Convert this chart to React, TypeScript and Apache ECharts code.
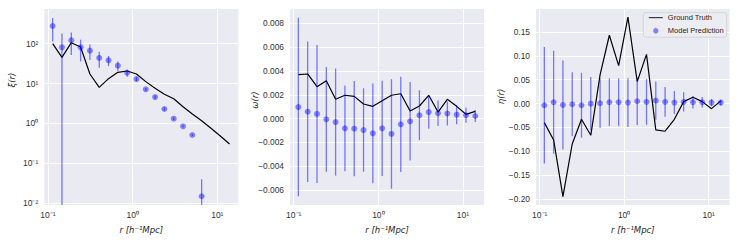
import React, { useEffect, useRef } from "react";
import * as echarts from "echarts";

// Separation bins r [h^-1 Mpc]
const R = [0.1135, 0.1462, 0.1884, 0.2427, 0.3126, 0.4027, 0.5188, 0.6683, 0.861, 1.109,
  1.429, 1.841, 2.371, 3.055, 3.936, 5.07, 6.531, 8.414, 10.84, 13.96];

// xi(r)
const XI_TRUE = [100, 45.6, 106, 82.7, 17.4, 8.07, 13.3, 19.2, 20.7, 17.4,
  11.2, 7.6, 5.4, 4.19, 2.64, 1.73, 1.17, 0.76, 0.487, 0.306];
const XI_PRED = [278, 81, 122, 81, 67, 43.9, 38.4, 28.1, 18.7, 13.0,
  7.2, 4.6, 2.31, 1.32, 0.85, 0.515, 0.015, null, null, null];
const XI_ERR = [165, 100, 70, 45, 28, 19, 11, 7.5, 3.8, 1.5,
  0.6, 0.4, 0.2, 0.1, 0.05, 0.03, 0.025, null, null, null];

// omega(r)
const OMEGA_TRUE = [0.00369, 0.00375, 0.00268, 0.00318, 0.00162, 0.00196, 0.00187, 0.00123, 0.00103, 0.0015,
  0.00196, 0.00209, 0.00064, 0.00106, 0.00196, 0.00055, 0.00162, 0.00103, 0.00036, 0.00061];
const OMEGA_PRED = [0.00097, 0.00058, 0.00039, -0.00006, -0.00029, -0.00082, -0.00085, -0.00096, -0.00124, -0.00082,
  -0.00129, -0.00048, -0.00023, 0.00028, 0.00055, 0.00045, 0.00043, 0.00033, 0.00028, 0.00022];
const OMEGA_ERR = [0.0075, 0.0059, 0.0058, 0.0044, 0.0045, 0.0036, 0.004, 0.0035, 0.0042, 0.004,
  0.0046, 0.004, 0.0033, 0.0021, 0.0014, 0.00107, 0.001, 0.0008, 0.00063, 0.0005];

// eta(r)
const ETA_TRUE = [-0.04, -0.0763, -0.195, -0.0847, -0.033, -0.0665, 0.06, 0.143, 0.0795, 0.181,
  0.046, 0.103, -0.0553, -0.058, -0.033, 0.004, 0.0132, 0.004, -0.0107, 0.0055];
const ETA_PRED = [-0.0036, 0.0027, -0.003, -0.0015, -0.0036, -0.0002, 0.0006, 0.0027, 0.0027, 0.002,
  0.0048, 0.0034, 0.006, 0.0034, 0.002, 0.0034, 0.0027, 0.0027, 0.002, 0.002];
const ETA_ERR = [0.122, 0.108, 0.093, 0.067, 0.068, 0.056, 0.052, 0.05, 0.05, 0.051,
  0.05, 0.048, 0.04, 0.031, 0.024, 0.02, 0.013, 0.011, 0.0075, 0.006];

const X_MIN = 0.0904;
const X_MAX = 17.7;
const XI_MIN = 0.00906;
const XI_MAX = 741;
const OMEGA_MIN = -0.00726;
const OMEGA_MAX = 0.00921;
const OMEGA_STEP = 0.002;
const ETA_MIN = -0.2125;
const ETA_MAX = 0.198;
const ETA_STEP = 0.05;

const Y_TITLES = ["\u03be(r)", "\u03c9(r)", "\u03b7(r)"];
const X_TITLE = "r [h\u207b\u00b9Mpc]";
const LEGEND_NAMES = ["Ground Truth", "Model Prediction"];

const SUP: Record<string, string> = {
  "-": "\u207b", "0": "\u2070", "1": "\u00b9", "2": "\u00b2", "3": "\u00b3",
  "4": "\u2074", "5": "\u2075", "6": "\u2076", "7": "\u2077", "8": "\u2078", "9": "\u2079",
};

const FONT = "'Liberation Sans', Arial, sans-serif";
const TICK_COLOR = "#333333";
const TEXT_DARK = "#262626";
const BLUE = "rgba(0,0,255,0.55)";
const BAR_BLUE = "rgba(0,0,255,0.5)";

function logLabel(v: number) {
  const e = Math.log10(v);
  const r = Math.round(e);
  if (Math.abs(e - r) > 1e-6) return "";
  return "10" + String(r).split("").map((c) => SUP[c]).join("");
}

function linLabel(step: number, digits: number) {
  return (v: number) => {
    const k = v / step;
    if (Math.abs(k - Math.round(k)) > 1e-6) return "";
    let s = (Math.round(k) * step).toFixed(digits);
    if (Math.round(k) === 0) s = (0).toFixed(digits);
    return s.replace("-", "\u2212");
  };
}

const GRIDS = [
  { left: 44.3, top: 9, width: 194, height: 196 },
  { left: 290, top: 9, width: 194, height: 196 },
  { left: 536, top: 9, width: 193.5, height: 196 },
];

function errSeries(idx: number, pred: (number | null)[], err: (number | null)[], floor: number | null) {
  const data: number[][] = [];
  R.forEach((r, i) => {
    if (pred[i] != null && err[i] != null) data.push([r, pred[i] as number, err[i] as number]);
  });
  return {
    type: "custom",
    xAxisIndex: idx,
    yAxisIndex: idx,
    data,
    clip: true,
    z: 3,
    silent: true,
    encode: { x: 0, y: 1 },
    renderItem: (_p: any, api: any) => {
      const x = api.value(0);
      const y = api.value(1);
      const e = api.value(2);
      let lo = y - e;
      if (floor != null && lo <= floor) lo = floor;
      const a = api.coord([x, y + e]);
      const b = api.coord([x, lo]);
      return {
        type: "line",
        shape: { x1: a[0], y1: a[1], x2: b[0], y2: b[1] },
        style: { stroke: BAR_BLUE, lineWidth: 1.3 },
      };
    },
  };
}

function lineSeries(idx: number, vals: number[]) {
  return {
    type: "line",
    name: LEGEND_NAMES[0],
    xAxisIndex: idx,
    yAxisIndex: idx,
    data: R.map((r, i) => [r, vals[i]]),
    symbol: "none",
    showSymbol: false,
    lineStyle: { color: "#000", width: 1.2 },
    itemStyle: { color: "#000" },
    z: 2,
    silent: true,
  };
}

function scatterSeries(idx: number, vals: (number | null)[]) {
  const data: number[][] = [];
  R.forEach((r, i) => {
    if (vals[i] != null) data.push([r, vals[i] as number]);
  });
  return {
    type: "scatter",
    name: LEGEND_NAMES[1],
    xAxisIndex: idx,
    yAxisIndex: idx,
    data,
    symbolSize: 6,
    itemStyle: { color: BLUE },
    z: 4,
    silent: true,
  };
}

const splitLine = {
  show: true,
  showMinLine: false,
  showMaxLine: false,
  lineStyle: { color: "#ffffff", width: 1 },
};

export default function App() {
  const ref = useRef<HTMLDivElement>(null);
  useEffect(() => {
    if (!ref.current) return;
    const chart = echarts.init(ref.current, undefined, { renderer: "svg" });
    const xAxis = GRIDS.map((_, i) => ({
      type: "log",
      logBase: 10,
      gridIndex: i,
      min: X_MIN,
      max: X_MAX,
      axisLine: { show: false },
      axisTick: { show: false },
      splitLine,
      axisLabel: {
        formatter: logLabel,
        margin: 5,
        fontSize: 8.5,
        fontFamily: FONT,
        color: TICK_COLOR,
        showMinLabel: true,
        showMaxLabel: true,
      },
    }));
    const yCommon = {
      axisLine: { show: false },
      axisTick: { show: false },
      splitLine,
    };
    const yLabel = { margin: 6, fontSize: 8.4, fontFamily: FONT, color: TICK_COLOR, showMinLabel: true, showMaxLabel: true };
    const yAxis = [
      { ...yCommon, type: "log", logBase: 10, gridIndex: 0, min: XI_MIN, max: XI_MAX,
        axisLabel: { ...yLabel, fontSize: 8.5, formatter: logLabel } },
      { ...yCommon, type: "value", gridIndex: 1, min: OMEGA_MIN, max: OMEGA_MAX,
        minInterval: OMEGA_STEP, maxInterval: OMEGA_STEP, splitNumber: 8,
        axisLabel: { ...yLabel, formatter: linLabel(OMEGA_STEP, 3) } },
      { ...yCommon, type: "value", gridIndex: 2, min: ETA_MIN, max: ETA_MAX,
        minInterval: ETA_STEP, maxInterval: ETA_STEP, splitNumber: 8,
        axisLabel: { ...yLabel, formatter: linLabel(ETA_STEP, 2) } },
    ];
    const titleFont = "italic 8.5px 'DejaVu Sans', sans-serif";
    const yTitlePos = [[12, 80], [255, 100], [501, 96.5]];
    const graphic: any[] = [];
    Y_TITLES.forEach((t, i) => {
      graphic.push({
        type: "text",
        x: yTitlePos[i][0],
        y: yTitlePos[i][1],
        rotation: Math.PI / 2,
        style: { text: t, font: titleFont, fill: TEXT_DARK, align: "center", verticalAlign: "middle" },
      });
    });
    GRIDS.forEach((g) => {
      graphic.push({
        type: "text",
        x: g.left + g.width / 2,
        y: 230,
        style: { text: X_TITLE, font: titleFont, fill: TEXT_DARK, align: "center", verticalAlign: "middle" },
      });
    });

    const lineIcon = "path://M0,0M14,9M0,4.05H14V4.95H0Z";
    const dotIcon =
      "path://M0,0M14,9M9.6,4.5A2.6,2.6,0,1,1,4.4,4.5A2.6,2.6,0,1,1,9.6,4.5ZM6.6,1.2H7.4V7.8H6.6Z";
    const legendText = { fontSize: 7.5, fontFamily: FONT, color: TEXT_DARK, lineHeight: 9 };

    chart.setOption({
      animation: false,
      grid: GRIDS.map((g) => ({ ...g, show: true, backgroundColor: "#EAEAF2", borderWidth: 0, containLabel: false })),
      xAxis,
      yAxis,
      legend: {
        orient: "vertical",
        left: 643.3,
        top: 12.7,
        padding: [0.5, 3, 2, 5.5],
        itemGap: 4,
        itemWidth: 14,
        itemHeight: 9,
        backgroundColor: "rgba(236,236,243,0.9)",
        borderColor: "#cfcfcf",
        borderWidth: 0.8,
        borderRadius: 2.5,
        selectedMode: false,
        textStyle: legendText,
        data: [
          { name: LEGEND_NAMES[0], icon: lineIcon, textStyle: legendText },
          { name: LEGEND_NAMES[1], icon: dotIcon, textStyle: legendText },
        ],
      },
      graphic,
      series: [
        lineSeries(0, XI_TRUE),
        errSeries(0, XI_PRED, XI_ERR, XI_MIN),
        scatterSeries(0, XI_PRED),
        lineSeries(1, OMEGA_TRUE),
        errSeries(1, OMEGA_PRED, OMEGA_ERR, null),
        scatterSeries(1, OMEGA_PRED),
        lineSeries(2, ETA_TRUE),
        errSeries(2, ETA_PRED, ETA_ERR, null),
        scatterSeries(2, ETA_PRED),
      ],
    });
    return () => chart.dispose();
  }, []);
  return (
    <div
      ref={ref}
      style={{ position: "absolute", left: 0, top: 0, width: 739, height: 247, background: "#ffffff" }}
    />
  );
}
